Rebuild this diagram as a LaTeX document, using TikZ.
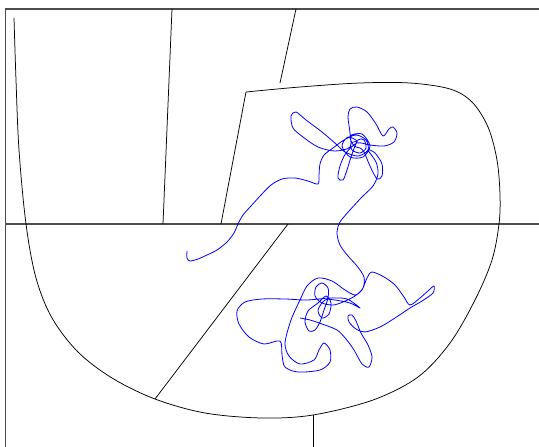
\documentclass[tikz,border=0pt]{standalone}
\begin{document}
\begin{tikzpicture}[x=1pt,y=-1pt,
  frame/.style={draw=black!70,line width=1.1pt},
  thin/.style={draw=black,line width=0.75pt},
  walk/.style={draw=blue,line width=0.8pt,line join=round}]
\useasboundingbox (0,0) rectangle (539,447);
% frame
\draw[frame] (539,9) -- (5.5,9) -- (5.5,447);
\draw[frame] (5.5,224) -- (539,224);
% straight lines
\draw[thin] (172,9) -- (163,224);
\draw[thin] (296,9) -- (280,83);
\draw[thin] (288,224) -- (155,399);
\draw[thin] (313,415) -- (313,447);
% bowl
\draw[thin] plot[smooth,tension=0.55] coordinates {
 (14,18) (16,80) (19,150) (26,224) (36,278) (52,318) (78,352) (112,378) (155,399)
 (205,413) (262,418) (313,415) (373,400) (418,377) (450,343) (475,300) (492,260)
 (499,224) (500,195) (497,160) (488,127) (472,102) (450,89) (410,83) (360,83) (300,87) (246,92)}
 -- (221,224);
% random walk
\draw[walk] plot[smooth,tension=0.5] coordinates {
(187,251) (187,258) (190,261) (198,259) (207,255) (217,250) (227,242) (234,233) (238,224)
(243,215) (251,206) (261,195) (271,185) (282,179) (295,178) (308,181) (318,184) (319,175)
(320,164) (324,155) (333,148)
(344,140) (356,135) (366,140) (368,150) (358,156) (345,152) (336,144)
(322,132) (306,120) (296,112) (291,116) (293,128) (303,137) (318,147) (335,151) (350,147)
(350,133) (348,117) (350,109) (357,107) (367,112) (376,124) (383,136)
(389,129) (393,127) (397,133) (394,142) (384,146) (370,145) (357,143)
(346,153) (340,166) (338,178) (343,180) (347,170) (352,154) (358,140)
(364,140) (366,148) (360,153) (352,150) (351,143) (357,141)
(348,137) (342,146) (350,157) (363,157) (370,146) (362,134) (350,136) (354,146) (360,148)
(364,152) (370,166) (377,179) (382,176) (382,164) (375,153) (368,150)
(376,162) (378,174) (373,186) (362,197) (350,210) (340,222) (337,233) (340,245) (348,256)
(357,266) (364,277) (363,288) (355,296) (343,302)
(333,305) (322,303) (315,296) (316,287) (322,283) (328,288) (328,298) (324,310) (320,322)
(315,330) (309,331) (305,322) (308,311) (318,303) (326,296) (331,303) (329,314) (322,318)
(318,310) (325,300) (335,300) (350,303) (360,308) (347,299)
(330,298) (307,300) (285,299) (262,299) (245,302) (237,311) (239,324) (249,337) (264,344)
(280,341) (282,355) (285,367) (298,372) (320,370) (330,362) (330,350) (324,343) (319,350)
(314,360) (300,364) (289,356) (285,343) (291,320) (300,300) (307,286) (318,278) (332,281)
(345,290) (355,295) (362,290) (367,278) (372,272) (384,277) (395,285) (404,297) (410,305)
(420,298) (429,290) (434,286) (433,293) (422,301) (410,308) (395,318) (380,327) (365,332)
(356,329) (349,322) (348,316) (352,315) (356,321) (361,333) (368,345) (372,357) (369,367)
(362,364) (354,350) (346,339) (337,330) (322,324) (310,320) (300,318)};
\end{tikzpicture}
\end{document}
